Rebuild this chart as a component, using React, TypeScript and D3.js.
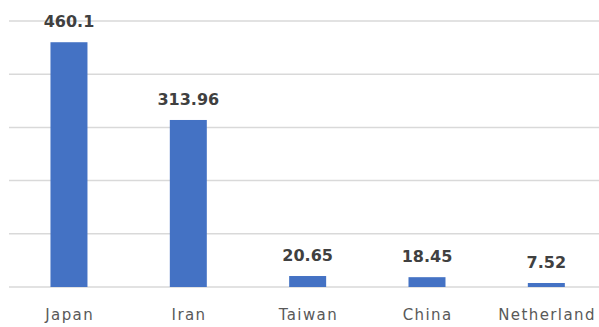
import React from "react";
import * as d3 from "d3";

const categories = ["Japan", "Iran", "Taiwan", "China", "Netherland"];
const values = [460.1, 313.96, 20.65, 18.45, 7.52];
const valueLabels = ["460.1", "313.96", "20.65", "18.45", "7.52"];
const yTicks = [0, 100, 200, 300, 400, 500];

const W = 599;
const H = 327;

export default function App() {
  const x = d3.scaleBand<string>().domain(categories).range([9.3, 606]).paddingInner(0.69).paddingOuter(0.345);
  const y = d3.scaleLinear().domain([0, 500]).range([287, 21]);
  const bw = x.bandwidth();
  return (
    <svg width={W} height={H} style={{ position: "absolute", left: 0, top: 0, background: "#fff" }}>
      {yTicks.map((t) => (
        <line key={t} x1={9} x2={W} y1={y(t)} y2={y(t)} stroke="#d9d9d9" strokeWidth={1.5} />
      ))}
      {categories.map((c, i) => (
        <g key={c}>
          <rect x={x(c)!} y={y(values[i])} width={bw} height={y(0) - y(values[i])} fill="#4472c4" />
          <text
            x={x(c)! + bw / 2}
            y={y(values[i]) - 15}
            textAnchor="middle"
            fontFamily="DejaVu Sans"
            fontWeight="bold"
            fontSize={16}
            fill="#404040"
          >
            {valueLabels[i]}
          </text>
          <text
            x={x(c)! + bw / 2 + 0.7}
            y={320}
            textAnchor="middle"
            fontFamily="DejaVu Sans"
            fontSize={15}
            letterSpacing={1.4}
            fill="#595959"
          >
            {c}
          </text>
        </g>
      ))}
    </svg>
  );
}
